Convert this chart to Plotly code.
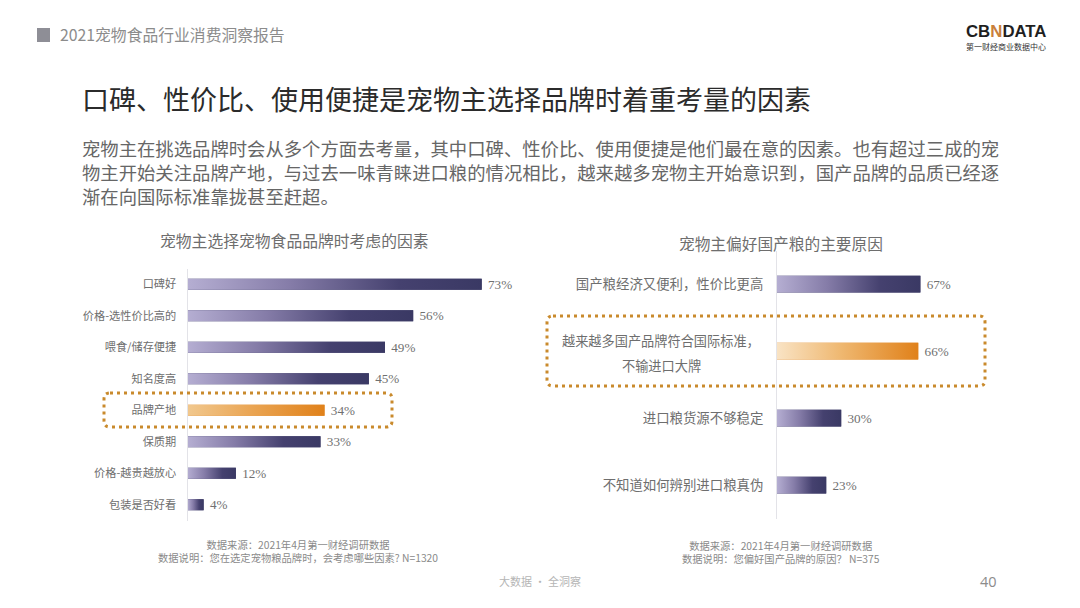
import plotly.graph_objects as go

W, H = 1080, 608
CJK = "Noto Sans CJK SC"

# left chart
left_labels = ["口碑好", "价格-选性价比高的", "喂食/储存便捷", "知名度高", "品牌产地", "保质期", "价格-越贵越放心", "包装是否好看"]
left_values = [73, 56, 49, 45, 34, 33, 12, 4]
left_highlight = 4

# right chart
right_labels = ["国产粮经济又便利，性价比更高", "", "进口粮货源不够稳定", "不知道如何辨别进口粮真伪"]
right_values = [67, 66, 30, 23]
right_highlight = 1

header = "2021宠物食品行业消费洞察报告"
title = "口碑、性价比、使用便捷是宠物主选择品牌时着重考量的因素"
body_lines = [
    "宠物主在挑选品牌时会从多个方面去考量，其中口碑、性价比、使用便捷是他们最在意的因素。也有超过三成的宠",
    "物主开始关注品牌产地，与过去一味青睐进口粮的情况相比，越来越多宠物主开始意识到，国产品牌的品质已经逐",
    "渐在向国际标准靠拢甚至赶超。",
]

PURPLE = [[0, "#b5aed2"], [0.35, "#857ca8"], [0.72, "#45416f"], [1, "#3a3964"]]
ORANGE_LEFT = [[0, "#f1c88e"], [0.45, "#eaa655"], [1, "#e0811a"]]
ORANGE_RIGHT = [[0, "#f9e3c4"], [0.45, "#efb871"], [1, "#e0811a"]]


def px(x):
    return x / W


def py(y):
    return 1 - y / H


def add_bars(fig, values, highlight, xaxis, yaxis, bar_h, orange):
    # solid bar carries the value label, gradient goes on top of it
    ys = list(range(len(values)))
    colors = ["#e0811a" if i == highlight else "#3a3964" for i in ys]
    fig.add_trace(go.Bar(x=values, y=ys, orientation="h", width=bar_h, xaxis=xaxis, yaxis=yaxis,
                         marker=dict(color=colors, line_width=0), hoverinfo="skip",
                         text=[f"\u00a0{v}%" for v in values], textposition="outside",
                         cliponaxis=False, constraintext="none",
                         textfont=dict(family="Liberation Serif", size=13.2, color="#707070")))
    for i, v in enumerate(values):
        fig.add_trace(go.Scatter(x=[0, v, v, 0, 0],
                                 y=[i - bar_h / 2, i - bar_h / 2, i + bar_h / 2, i + bar_h / 2, i - bar_h / 2],
                                 mode="lines", line=dict(width=0), fill="toself", xaxis=xaxis, yaxis=yaxis,
                                 hoverinfo="skip",
                                 fillgradient=dict(type="horizontal", colorscale=orange if i == highlight else PURPLE)))


def dotted_box(x0, y0, x1, y1, r=6):
    path = (f"M {px(x0 + r)} {py(y0)} L {px(x1 - r)} {py(y0)} Q {px(x1)} {py(y0)} {px(x1)} {py(y0 + r)} "
            f"L {px(x1)} {py(y1 - r)} Q {px(x1)} {py(y1)} {px(x1 - r)} {py(y1)} "
            f"L {px(x0 + r)} {py(y1)} Q {px(x0)} {py(y1)} {px(x0)} {py(y1 - r)} "
            f"L {px(x0)} {py(y0 + r)} Q {px(x0)} {py(y0)} {px(x0 + r)} {py(y0)} Z")
    return dict(type="path", path=path, xref="paper", yref="paper",
                line=dict(color="#c98a2c", width=3, dash="3px,4px"))


def note(x, y, text, size, color, anchor="left", family=CJK):
    return dict(x=px(x), y=py(y), xref="paper", yref="paper", text=text, showarrow=False,
                xanchor=anchor, yanchor="middle", align=anchor,
                font=dict(family=family, size=size, color=color))


fig = go.Figure()
add_bars(fig, left_values, left_highlight, "x", "y", 0.35, ORANGE_LEFT)
add_bars(fig, right_values, right_highlight, "x2", "y2", 0.25, ORANGE_RIGHT)

notes = [
    note(58, 35, header, 15.8, "#8c8c8c"),
    note(80, 98, title, 27, "#2b2b2b"),
    note(80, 148, body_lines[0], 18.35, "#666666"),
    note(80, 172, body_lines[1], 18.35, "#666666"),
    note(80, 196, body_lines[2], 18.35, "#666666"),
    note(294, 241, "宠物主选择宠物食品品牌时考虑的因素", 15.8, "#6e6e6e", "center"),
    note(781, 243, "宠物主偏好国产粮的主要原因", 15.7, "#6e6e6e", "center"),
    note(661, 340, "越来越多国产品牌符合国际标准，", 13.2, "#6e6e6e", "center"),
    note(661, 365, "不输进口大牌", 13.2, "#6e6e6e", "center"),
    note(298, 551, "数据来源：2021年4月第一财经调研数据<br>数据说明：您在选定宠物粮品牌时，会考虑哪些因素? N=1320",
         10.3, "#8a8a8a", "center"),
    note(781, 552, "数据来源：2021年4月第一财经调研数据<br>数据说明：您偏好国产品牌的原因？ N=375",
         10.3, "#8a8a8a", "center"),
    note(540, 581, "大数据 · 全洞察", 11, "#b5b5b5", "center"),
    note(988, 581, "40", 14.5, "#8c8c8c", "center", "Open Sans"),
    note(1006, 32, "<b>CB<span style='color:#c9803a'>N</span>DATA</b>", 16.8, "#1f1f1f", "center", "Liberation Sans"),
    note(1006, 47, "第一财经商业数据中心", 8, "#333333", "center"),
]

square = dict(type="rect", xref="paper", yref="paper", x0=px(37), x1=px(50), y0=py(42), y1=py(28),
              fillcolor="#8e8e96", line_width=0)

fig.update_layout(
    width=W, height=H, margin=dict(l=0, r=0, t=0, b=0), showlegend=False,
    paper_bgcolor="white", plot_bgcolor="white", barmode="overlay",
    annotations=notes,
    shapes=[square, dotted_box(104, 393, 392, 427), dotted_box(547, 316, 985, 386)],
    xaxis=dict(domain=[px(187.5), px(187.5 + 4.03 * 100)], range=[0, 100], visible=False),
    yaxis=dict(domain=[py(520.5), py(268.5)], range=[7.5, -0.5], anchor="x", showline=True, linecolor="#e3e3e8",
               linewidth=1, showgrid=False, zeroline=False, ticks="", tickvals=list(range(8)), ticktext=left_labels,
               ticklabelstandoff=8, tickfont=dict(family=CJK, size=11.2, color="#6e6e6e")),
    xaxis2=dict(domain=[px(777), px(777 + 2.14 * 90)], range=[0, 90], visible=False, anchor="y2"),
    yaxis2=dict(domain=[py(518.5), py(250.5)], range=[3.5, -0.5], anchor="x2", showline=True, linecolor="#e3e3e8",
                linewidth=1, showgrid=False, zeroline=False, ticks="", tickvals=list(range(4)), ticktext=right_labels,
                ticklabelstandoff=10, tickfont=dict(family=CJK, size=13.4, color="#6e6e6e")),
)

fig.write_html("out.html", config=dict(displayModeBar=False), post_script="document.body.style.margin='0';")
